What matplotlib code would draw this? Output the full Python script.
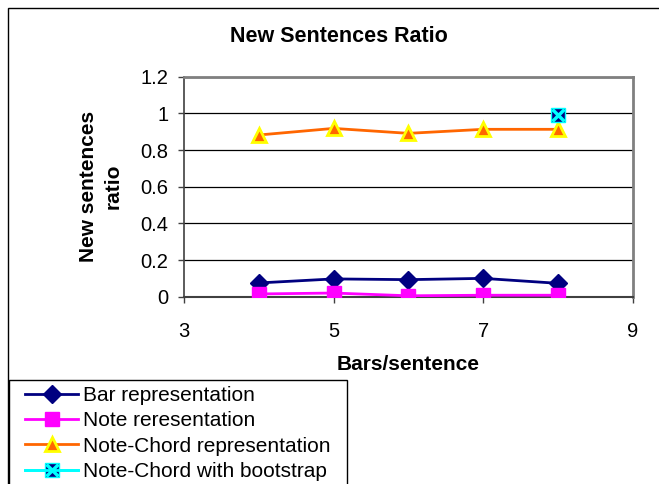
import matplotlib
matplotlib.use("Agg")
import matplotlib.pyplot as plt
from matplotlib.patches import Rectangle
from matplotlib.legend_handler import HandlerTuple

plt.rcParams["font.family"] = ["Liberation Sans", "DejaVu Sans"]

bars_per_sentence = [4, 5, 6, 7, 8]
bar_repr = [0.075, 0.097, 0.093, 0.100, 0.073]
note_repr = [0.015, 0.020, 0.005, 0.008, 0.008]
note_chord_repr = [0.882, 0.918, 0.891, 0.913, 0.913]
bootstrap_x = [8]
bootstrap_y = [0.99]

labels = ["Bar representation", "Note reresentation",
          "Note-Chord representation", "Note-Chord with bootstrap"]

fig = plt.figure(figsize=(6.59, 4.84), dpi=100)
ax = fig.add_axes([184 / 659, 1 - 296.7 / 484, 448.7 / 659, 220 / 484])

# outer chart border (only top and left visible)
fig.patches.append(Rectangle((8 / 659, -0.2), 1.2, 1 - 8 / 484 + 0.2,
                             transform=fig.transFigure, fill=False,
                             edgecolor="black", linewidth=1.0))
# legend box drawn by hand
fig.patches.append(Rectangle((9 / 659, -0.2), 338 / 659, 1 - 380 / 484 + 0.2,
                             transform=fig.transFigure, fill=False,
                             edgecolor="black", linewidth=1.0, zorder=5))

l1, = ax.plot(bars_per_sentence, bar_repr, color="#000080", lw=2,
              marker="D", ms=9, mfc="#000080", mec="#000080", zorder=4)
l2, = ax.plot(bars_per_sentence, note_repr, color="#FF00FF", lw=2,
              marker="s", ms=10, mfc="#FF00FF", mec="#FF00FF", zorder=4)
l3, = ax.plot(bars_per_sentence, note_chord_repr, color="#FF6600", lw=2,
              marker="^", ms=10, mfc="#FF6600", mec="#FFFF00", mew=2, zorder=4)
l4a, = ax.plot(bootstrap_x, bootstrap_y, color="#00FFFF", lw=2,
               marker="s", ms=10, mfc="#000080", mec="#00FFFF", mew=1, zorder=5)
l4b, = ax.plot(bootstrap_x, bootstrap_y, color="#00FFFF", lw=2,
               marker="x", ms=9, mec="#00FFFF", mew=2.5, zorder=6)

ax.set_xlim(3, 9)
ax.set_ylim(0, 1.2)
ax.set_xticks([3, 5, 7, 9])
ax.set_yticks([0, 0.2, 0.4, 0.6, 0.8, 1.0, 1.2])
ax.set_yticklabels(["0", "0.2", "0.4", "0.6", "0.8", "1", "1.2"])
ax.yaxis.grid(True, color="black", linewidth=0.9)
ax.set_axisbelow(True)

for s in ["top", "right"]:
    ax.spines[s].set_color("#808080")
    ax.spines[s].set_linewidth(2)
ax.spines["left"].set_color("#404040")
ax.spines["bottom"].set_color("#404040")
ax.spines["left"].set_linewidth(1.2)
ax.spines["bottom"].set_linewidth(1.5)

ax.tick_params(axis="y", length=4.3, width=1, pad=7, labelsize=14.5, color="#404040")
ax.tick_params(axis="x", length=4.3, width=1, pad=14, labelsize=14.5, color="#404040")

ax.set_xlabel("Bars/sentence", fontsize=15, fontweight="bold", va="center")
ax.xaxis.set_label_coords(0.5, (296.7 - 365) / 220)
ax.set_ylabel("New sentences\nratio", fontsize=15, fontweight="bold",
              va="center", linespacing=1.35)
ax.yaxis.set_label_coords((101 - 184) / 448.7, 0.5)

fig.text(339 / 659, 1 - 37 / 484, "New Sentences Ratio", fontsize=15.5,
         fontweight="bold", ha="center", va="center")

leg = fig.legend([l1, l2, l3, (l4a, l4b)], labels,
                 handler_map={tuple: HandlerTuple(ndivide=1)},
                 loc="upper left", bbox_to_anchor=(23 / 659, 1 - 384 / 484),
                 borderaxespad=0, fontsize=15, frameon=False,
                 handlelength=2.55, handletextpad=0.25,
                 labelspacing=0.3, borderpad=0.1)

fig.savefig("out.png", dpi=100)
